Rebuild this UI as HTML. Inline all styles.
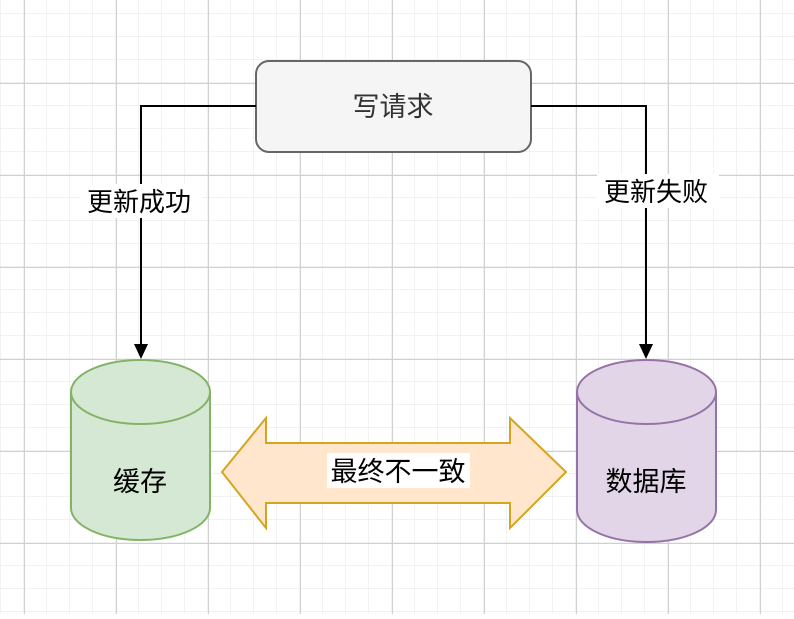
<!DOCTYPE html>
<html><head><meta charset="utf-8"><style>
html,body{margin:0;padding:0;background:#fff}
body{width:794px;height:614px;overflow:hidden;font-family:"Liberation Sans","Noto Sans CJK SC",sans-serif}
</style></head><body>
<svg width="794" height="614" xmlns="http://www.w3.org/2000/svg">
<defs>
<pattern id="minor" x="1" y="14" width="23" height="23" patternUnits="userSpaceOnUse">
<path d="M23 0V23M0 23H23" fill="none" stroke="#e6e6e6" stroke-width="1"/></pattern>
<pattern id="major" x="24" y="83" width="92" height="92" patternUnits="userSpaceOnUse">
<path d="M0.5 0V92M0 0.5H92" fill="none" stroke="#d0d0d0" stroke-width="1"/></pattern>
</defs>
<rect width="794" height="614" fill="url(#minor)"/>
<rect width="794" height="614" fill="url(#major)"/>

<rect x="256" y="61" width="275" height="91" rx="13" fill="#f5f5f5" stroke="#666" stroke-width="2"/>
<text x="393" y="116" font-size="27" text-anchor="middle" fill="#333">写请求</text>

<path d="M256 106H141V348" fill="none" stroke="#000" stroke-width="2"/>
<path d="M134 344L141 359L148 344Z" fill="#000"/>
<path d="M531 106H646V348" fill="none" stroke="#000" stroke-width="2"/>
<path d="M639 344L646 359L653 344Z" fill="#000"/>
<rect x="80" y="184" width="122" height="34" fill="#fff"/>
<text x="139" y="211" font-size="26" text-anchor="middle">更新成功</text>
<rect x="597" y="174" width="122" height="34" fill="#fff"/>
<text x="656" y="201" font-size="26" text-anchor="middle">更新失败</text>

<path d="M71 392V508A69.5 32 0 0 0 210 508V392A69.5 32 0 0 0 71 392Z" fill="#d5e8d4" stroke="#82b366" stroke-width="2"/>
<path d="M71 392A69.5 32 0 0 0 210 392" fill="none" stroke="#82b366" stroke-width="2"/>
<text x="140" y="491" font-size="27" text-anchor="middle">缓存</text>

<path d="M577 392V510A69.5 32 0 0 0 716 510V392A69.5 32 0 0 0 577 392Z" fill="#e1d5e7" stroke="#9673a6" stroke-width="2"/>
<path d="M577 392A69.5 32 0 0 0 716 392" fill="none" stroke="#9673a6" stroke-width="2"/>
<text x="646" y="491" font-size="27" text-anchor="middle">数据库</text>

<path d="M222 472L266 418V443H510V418L566 472L510 528V503H266V528Z" fill="#ffe6cc" stroke="#d6a520" stroke-width="2"/>
<rect x="327" y="453" width="143" height="35" fill="#fff"/>
<text x="398" y="481" font-size="27" text-anchor="middle">最终不一致</text>
</svg>
</body></html>
